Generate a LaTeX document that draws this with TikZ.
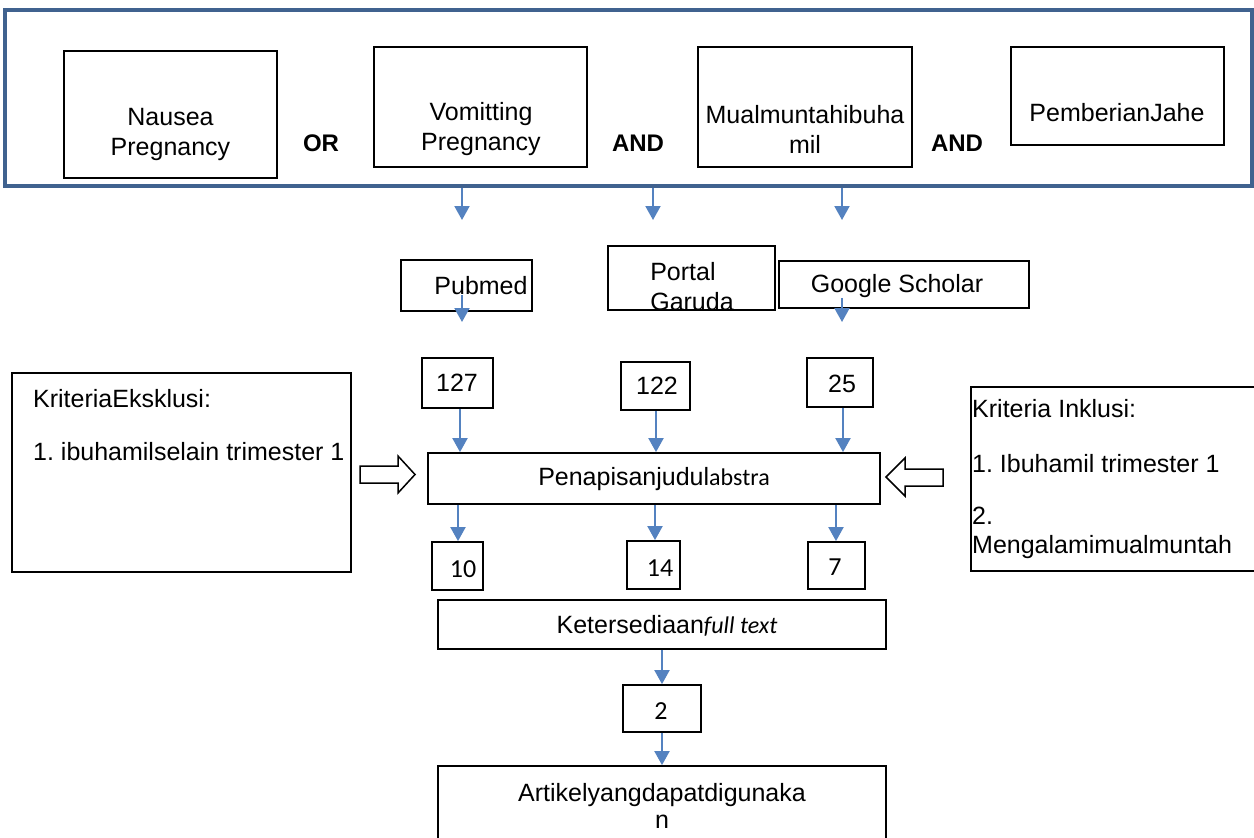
\documentclass[tikz,border=0pt]{standalone}
\usepackage{fontspec}
\setmainfont{Liberation Sans}
\newfontfamily\carl{Carlito}
\usetikzlibrary{arrows.meta}
\definecolor{frameblue}{RGB}{64,98,143}
\definecolor{arrblue}{RGB}{84,130,192}
\frenchspacing
\begin{document}
\begin{tikzpicture}[x=1pt,y=-1pt,
  box/.style={draw=black,line width=1.8pt,inner sep=0pt},
  txt/.style={inner sep=0pt,align=center,font=\fontsize{25}{30}\selectfont},
  ctxt/.style={inner sep=0pt,font=\fontsize{26}{28}\selectfont\carl},
  ltxt/.style={inner sep=0pt,anchor=base west,font=\fontsize{25}{30}\selectfont},
  btxt/.style={inner sep=0pt,font=\fontsize{24}{28}\selectfont\bfseries},
  arr/.style={draw=arrblue,line width=2pt,-{Triangle[width=15pt,length=14pt]}},
  hollow/.style={draw=black,line width=1.5pt,fill=white,line join=miter}]
\useasboundingbox (0,0) rectangle (1254,838);
\fill[white] (0,0) rectangle (1254,838);

% top frame
\node[draw=frameblue,line width=4.5pt,minimum width=1247pt,minimum height=176pt,inner sep=0pt] (frame) at (628.5,98) {};

\node[box,minimum width=213pt,minimum height=127pt] (nau) at (170.5,114.5) {};
\node[txt] (naut) at (170.5,134) {Nausea\\Pregnancy};
\node[btxt] (or) at (321,143) {OR};
\node[box,minimum width=213pt,minimum height=120pt] (vom) at (480.5,107) {};
\node[txt] (vomt) at (481,129.5) {Vomitting\\Pregnancy};
\node[btxt] (and1) at (638,143) {AND};
\node[box,minimum width=214pt,minimum height=120pt] (mual) at (805,107) {};
\node[txt] (mualt) at (805,129.5) {Mualmuntahibuha\\mil};
\node[btxt] (and2) at (957,143) {AND};
\node[box,minimum width=213pt,minimum height=98pt] (jahe) at (1117.5,96) {};
\node[txt] (jahet) at (1117,113) {PemberianJahe};

\coordinate (t1) at (462,220);
\coordinate (t2) at (653,220);
\coordinate (t3) at (842,220);
\draw[arr] (frame.south -| t1) -- (t1);
\draw[arr] (frame.south -| t2) -- (t2);
\draw[arr] (frame.south -| t3) -- (t3);

% sources
\node[box,minimum width=131pt,minimum height=51pt] (pub) at (466.5,285.5) {};
\node[txt] (pubt) at (481,286) {Pubmed};
\node[box,minimum width=167pt,minimum height=64pt] (gar) at (691.5,278) {};
\node[txt,align=left] (gart) at (692,287) {Portal\\Garuda};
\node[box,minimum width=250pt,minimum height=47pt] (gs) at (904,284.5) {};
\node[txt] (gst) at (897,286) {Google Scholar};

\coordinate (s1) at (462,322);
\coordinate (s3) at (842,322);
\draw[arr] (pubt.south -| s1) -- (s1);
\draw[arr] (gst.south -| s3) -- (s3);

% counts
\node[box,minimum width=71pt,minimum height=50pt] (c127) at (457.5,383) {};
\node[txt] at (457,383) {127};
\node[box,minimum width=69pt,minimum height=48pt] (c122) at (655.5,386) {};
\node[txt] at (657,386) {122};
\node[box,minimum width=66pt,minimum height=49pt] (c25) at (840,382.5) {};
\node[txt] at (842,384) {25};

% screening
\node[box,minimum width=452pt,minimum height=51pt] (pen) at (654,478.5) {};
\node[txt] (pent) at (654,479) {Penapisanjudul{\carl\fontsize{24}{28}\selectfont abstra}};

\coordinate (u1) at (460,0);
\coordinate (u2) at (656,0);
\coordinate (u3) at (843,0);
\draw[arr] (c127.south -| u1) -- (pen.north -| u1);
\draw[arr] (c122.south -| u2) -- (pen.north -| u2);
\draw[arr] (c25.south -| u3) -- (pen.north -| u3);

% criteria
\node[box,minimum width=339pt,minimum height=199pt] (exc) at (181.5,472.5) {};
\node[ltxt] (exc1) at (33,407) {KriteriaEksklusi:};
\node[ltxt] (exc2) at (33,460) {1. ibuhamilselain trimester 1};

\node[box,minimum width=300pt,minimum height=184pt] (inc) at (1121,479) {};
\node[ltxt] (inc1) at (972,417) {Kriteria Inklusi:};
\node[ltxt] (inc2) at (972,472) {1. Ibuhamil trimester 1};
\node[ltxt] (inc3) at (972,524) {2.};
\node[ltxt] (inc4) at (972,553) {Mengalamimualmuntah};

\draw[hollow] (360,466) -- (398,466) -- (398,456) -- (415,474.5) -- (398,493) -- (398,483) -- (360,483) -- cycle;
\draw[hollow] (943,469) -- (905,469) -- (905,458) -- (886,477) -- (905,496) -- (905,486) -- (943,486) -- cycle;

% results
\node[box,minimum width=51pt,minimum height=48pt] (r10) at (457.5,566) {};
\node[ctxt] at (463,569) {10};
\node[box,minimum width=53pt,minimum height=48pt] (r14) at (653.5,565) {};
\node[ctxt] at (660,568) {14};
\node[box,minimum width=57pt,minimum height=47pt] (r7) at (836.5,565.5) {};
\node[ctxt] at (835,567) {7};

\coordinate (v1) at (458,0);
\coordinate (v2) at (655,0);
\coordinate (v3) at (836,0);
\draw[arr] (pen.south -| v1) -- (r10.north -| v1);
\draw[arr] (pen.south -| v2) -- (r14.north -| v2);
\draw[arr] (pen.south -| v3) -- (r7.north -| v3);

\node[box,minimum width=448pt,minimum height=49pt] (full) at (662,624.5) {};
\node[txt] at (667,626) {Ketersediaan{\carl\itshape\fontsize{24}{28}\selectfont full text}};

\node[box,minimum width=78pt,minimum height=47pt] (two) at (662,708.5) {};
\node[ctxt] at (661,711) {2};

\node[box,minimum width=448pt,minimum height=90pt] (art) at (662,811) {};
\node[txt,font=\fontsize{25}{27}\selectfont] at (662,806) {Artikelyangdapatdigunaka\\n};

\draw[arr] (full.south -| two.north) -- (two.north);
\draw[arr] (two.south) -- (art.north);
\end{tikzpicture}
\end{document}
